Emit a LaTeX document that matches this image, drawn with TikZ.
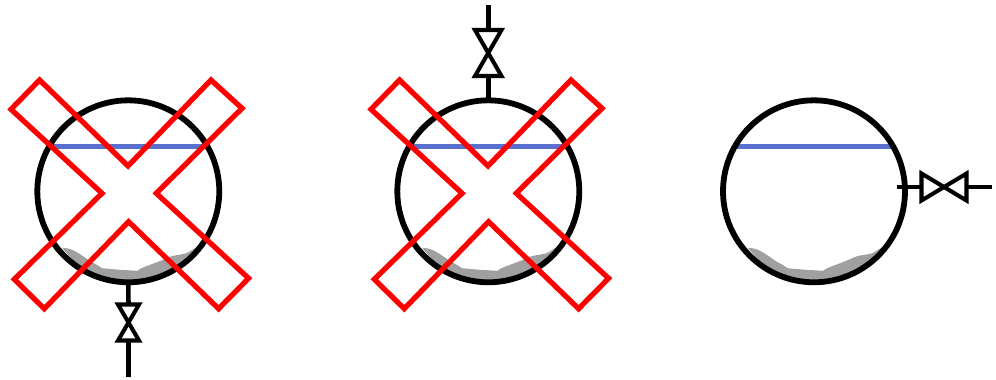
\documentclass[tikz,border=0pt]{standalone}
\usepackage{tikz}
\definecolor{nivel}{HTML}{5B70CE}
\definecolor{lodo}{HTML}{A0A0A0}
\definecolor{rojo}{HTML}{FF0000}
\tikzset{vessel/.style={circle,draw=black,line width=3.3pt,minimum size=3.64cm,inner sep=0,outer sep=0},
         pipe/.style={black,line width=2.6pt},
         valve/.style={black,line width=2.3pt,miter limit=10,fill=white},
         level/.style={nivel,line width=2.5pt},
         sludge/.style={fill=lodo,draw=none},
         cross/.style={rojo,line width=3pt,miter limit=10}}
\begin{document}
\begin{tikzpicture}[x=.02cm,y=-.02cm]
  \useasboundingbox (0,0) rectangle (996,379);
  % vessels
  \foreach \n/\x in {1/128.3,2/488.3,3/814} {
    \fill[sludge,shift={(\x*.02cm,-191.3*.02cm)}] (-66,57) .. controls (-58,56) and (-52,60) .. (-38,70)
      .. controls (-30,74) and (-28,76) .. (-26,77) -- (-8,78.5) -- (9,79.5)
      .. controls (15,75) and (25,73) .. (38,67) .. controls (45,63) and (55,64) .. (60,61) -- (68,56)
      -- (50,75) -- (30,85) -- (0,90) -- (-30,85) -- (-50,75) -- cycle;
    \draw[level] (\x-78,146.3) -- (\x+78,146.3);
    \node[vessel] (v\n) at (\x,191.3) {};
  }
  % valve below
  \coordinate (a1) at (128.5,304.5);
  \coordinate (b1) at (128.5,340.5);
  \coordinate (e1) at (128.5,377);
  \draw[pipe] (v1.south) -- (a1) (b1) -- (e1);
  \draw[valve] (118,304.5) -- (139,304.5) -- (118,340.5) -- (139,340.5) -- cycle;
  % valve above
  \coordinate (a2) at (488.3,30);
  \coordinate (b2) at (488.3,76);
  \coordinate (e2) at (488.3,5);
  \draw[pipe] (e2) -- (a2) (b2) -- (v2.north);
  \draw[valve] (475,30) -- (501.5,30) -- (475,76) -- (501.5,76) -- cycle;
  % valve at the side
  \coordinate (s3) at (896.7,187);
  \coordinate (a3) at (921.5,187);
  \coordinate (b3) at (966.5,187);
  \coordinate (e3) at (991.7,187);
  \draw[pipe] (s3) -- (a3) (b3) -- (e3);
  \draw[valve] (921.5,173.5) -- (921.5,200.5) -- (966.5,173.5) -- (966.5,200.5) -- cycle;
  % crosses
  \foreach \n in {1,2}
    \draw[cross,shift={(v\n.center)}] (-88.7,-111.3) -- (-117.3,-82) -- (-26.3,2) -- (-114,88) -- (-84,117.4)
      -- (0.3,30.4) -- (90.3,117.4) -- (120.3,87) -- (28,2) -- (113.7,-83) -- (82.7,-111.3) -- (-0.3,-25.3) -- cycle;
\end{tikzpicture}
\end{document}
